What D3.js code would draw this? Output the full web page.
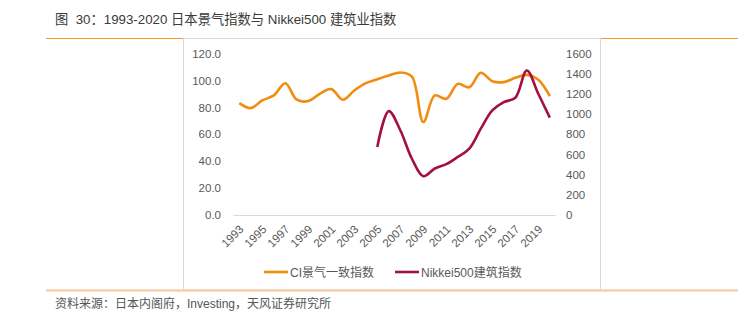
<!DOCTYPE html>
<html>
<head>
<meta charset="utf-8">
<script src="https://cdn.jsdelivr.net/npm/d3@7"></script>
<style>
  body { margin: 0; background: #fff; }
  text { font-family: "Liberation Sans", "Noto Sans CJK SC", sans-serif; }
</style>
</head>
<body>
<div id="visArea"></div>
<script>
// data
var years = d3.range(1993, 2021)
var ciIndex = [83.2, 79.5, 85.2, 88.9, 98.0, 85.7, 84.7, 90.1, 93.6, 85.7,
  92.6, 98.0, 101.0, 103.7, 106.0, 103.0, 69.1, 88.9, 86.4, 97.5,
  95.0, 105.7, 99.5, 98.8, 102.0, 104.2, 100.5, 88.4]
// Nikkei500 construction starts in 2005
var nikkeiYears = d3.range(2005, 2021)
var nikkeiIndex = [675, 1030, 840, 560, 385, 461, 504, 576, 658, 856,
  1037, 1119, 1162, 1432, 1202, 965]
var leftTicks = [0, 20, 40, 60, 80, 100, 120]
var rightTicks = [0, 200, 400, 600, 800, 1000, 1200, 1400, 1600]
var xLabels = d3.range(1993, 2020, 2)

var seriesNames = ["CI景气一致指数", "Nikkei500建筑指数"]
var colors = ["#F28C0F", "#A3113E"]

var viewWidth = 748
var viewHeight = 324

var svg = d3.select("#visArea").append("svg")
  .attr("width", viewWidth)
  .attr("height", viewHeight)

// title and rules
svg.append("text")
  .attr("x", 55).attr("y", 24)
  .attr("font-size", 13.3)
  .attr("fill", "#3a3a3a")
  .attr("xml:space", "preserve")
  .style("white-space", "pre")
  .text("图  30：1993-2020 日本景气指数与 Nikkei500 建筑业指数")

svg.append("line")
  .attr("x1", 46).attr("x2", 738).attr("y1", 38.5).attr("y2", 38.5)
  .attr("stroke", "#F39A2E").attr("stroke-width", 1.2)

// chart frame
svg.append("rect")
  .attr("x", 183.5).attr("y", 38.5)
  .attr("width", 417).attr("height", 251.5)
  .attr("fill", "none").attr("stroke", "#d9d9d9").attr("stroke-width", 1)

svg.append("line")
  .attr("x1", 46).attr("x2", 738).attr("y1", 290.5).attr("y2", 290.5)
  .attr("stroke", "#FBC598").attr("stroke-width", 2)

svg.append("text")
  .attr("x", 55).attr("y", 308)
  .attr("font-size", 12)
  .attr("fill", "#555")
  .text("资料来源：日本内阁府，Investing，天风证券研究所")

// scales
var xScale = d3.scalePoint()
  .domain(years)
  .range([239.3, 549.8])

var yLeft = d3.scaleLinear().domain([0, 120]).range([215, 53.6])
var yRight = d3.scaleLinear().domain([0, 1600]).range([215, 53.6])

// baseline
svg.append("line")
  .attr("x1", 233.5).attr("x2", 555.5)
  .attr("y1", yLeft(0) + 0.5).attr("y2", yLeft(0) + 0.5)
  .attr("stroke", "#d9d9d9")

var leftAxis = d3.axisLeft(yLeft)
  .tickValues(leftTicks)
  .tickFormat(d3.format(".1f"))
  .tickSize(0)
  .tickPadding(0)

svg.append("g")
  .attr("class", "y axis")
  .attr("transform", "translate(221,0)")
  .call(leftAxis)

var rightAxis = d3.axisRight(yRight)
  .tickValues(rightTicks)
  .tickFormat(d3.format("d"))
  .tickSize(0)
  .tickPadding(0)

svg.append("g")
  .attr("class", "y axis")
  .attr("transform", "translate(566,0)")
  .call(rightAxis)

svg.selectAll(".y.axis .domain").remove()
svg.selectAll(".y.axis text")
  .attr("font-family", "Liberation Sans, sans-serif")
  .attr("font-size", 11.5)
  .attr("fill", "#595959")

// rotated year labels
svg.append("g")
  .selectAll("text")
  .data(xLabels)
  .join("text")
  .attr("transform", (d) => "translate(" + (xScale(d) + 5) + "," + 230 + ") rotate(-45)")
  .attr("text-anchor", "end")
  .attr("font-size", 11.5)
  .attr("fill", "#595959")
  .text((d) => d)

// lines
var ciLine = d3.line()
  .x((d, i) => xScale(years[i]))
  .y((d) => yLeft(d))
  .curve(d3.curveCatmullRom.alpha(0.5))

var nikkeiLine = d3.line()
  .x((d, i) => xScale(nikkeiYears[i]))
  .y((d) => yRight(d))
  .curve(d3.curveCatmullRom.alpha(0.5))

svg.append("path")
  .attr("d", ciLine(ciIndex))
  .attr("fill", "none")
  .attr("stroke", colors[0])
  .attr("stroke-width", 2.6)
  .attr("stroke-linejoin", "round")

svg.append("path")
  .attr("d", nikkeiLine(nikkeiIndex))
  .attr("fill", "none")
  .attr("stroke", colors[1])
  .attr("stroke-width", 2.6)
  .attr("stroke-linejoin", "round")

// legend
var legendX = [264, 395]
var legend = svg.append("g")
  .selectAll("g")
  .data(seriesNames)
  .join("g")
  .attr("transform", (d, i) => "translate(" + legendX[i] + ",272)")

legend.append("line")
  .attr("x1", 0).attr("x2", 24)
  .attr("stroke", (d, i) => colors[i])
  .attr("stroke-width", 2.6)

legend.append("text")
  .attr("x", 26).attr("y", 4.5)
  .attr("font-size", 12)
  .attr("fill", "#595959")
  .text((d) => d)
</script>
</body>
</html>
